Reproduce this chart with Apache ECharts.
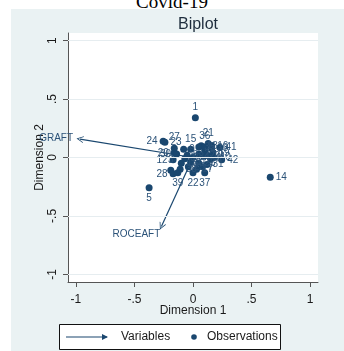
<!DOCTYPE html>
<html>
<head>
<meta charset="utf-8">
<script src="https://cdn.jsdelivr.net/npm/echarts@6/dist/echarts.min.js"></script>
<style>
  html, body { margin: 0; padding: 0; background: #fff; }
  #top { position: absolute; left: 0; top: -9px; width: 344px; text-align: center;
         font: 19px "Liberation Serif", "Times New Roman", serif; color: #000; }
  #bg { position: absolute; left: 11px; top: 9px; width: 333px; height: 342px; background: #eaf2f3; }
  #chartWrapper { position: absolute; left: 0; top: 0; width: 344px; height: 351px; }
</style>
</head>
<body>
<div id="top">Covid-19</div>
<div id="bg"></div>
<div id="chartWrapper"></div>
<script>
// observations (dimension 1, dimension 2), numbered 1..42
let obsNames = ['1','2','3','4','5','6','7','8','9','10','11','12','13','14','15','16','17','18','19','20','21',
    '22','23','24','25','26','27','28','29','30','31','32','33','34','35','36','37','38','39','40','41','42'];
let obsDim1 = [0.02, 0.05, -0.19, 0.10, -0.375, 0.15, 0.08, -0.05, -0.08, 0.12, -0.02, -0.17, 0.07, 0.66,
    -0.02, 0.16, 0.03, -0.10, 0.17, -0.16, 0.13, 0.0, -0.24, -0.255, -0.04, 0.05, -0.16, -0.17, 0.09, -0.14,
    0.12, -0.07, 0.16, 0.0, 0.05, 0.10, 0.10, -0.11, -0.13, 0.18, 0.23, 0.245];
let obsDim2 = [0.34, 0.03, -0.11, 0.06, -0.26, -0.01, -0.08, 0.02, 0.07, 0.02, -0.04, -0.02, 0.10, -0.17,
    0.07, 0.10, -0.10, -0.05, 0.04, 0.04, 0.12, -0.13, 0.13, 0.14, -0.08, -0.05, 0.08, -0.14, 0.01, 0.03,
    -0.06, -0.01, 0.08, 0.0, 0.09, 0.09, -0.13, -0.10, -0.13, 0.0, 0.085, -0.02];
// label side for some observations (default right)
let obsLabelSide = {'1': 'top', '5': 'bottom', '24': 'left', '27': 'top', '15': 'top', '36': 'top', '21': 'top',
    '12': 'left', '20': 'left', '30': 'left', '28': 'left', '22': 'bottom', '37': 'bottom', '3': 'top', '39': 'bottom'};

// variables (arrow tips)
let varNames = ['GRAFT', 'ROCEAFT'];
let varDim1 = [-0.966, -0.27];
let varDim2 = [0.158, -0.59];

let tickValues = [-1, -0.5, 0, 0.5, 1];

let navy = '#1a476f';
let labelColor = '#2b5278';
let font = 'Liberation Sans, Arial, sans-serif';

function fmt(v) {
    return String(v).replace('0.', '.');
}

let myChart = echarts.init(document.getElementById('chartWrapper'));

let obsData = [];
for (let i = 0; i < obsNames.length; i++) {
    let item = { name: obsNames[i], value: [obsDim1[i], obsDim2[i]] };
    let side = obsLabelSide[obsNames[i]];
    if (side) {
        item.label = { position: side };
    }
    obsData.push(item);
}

let varData = [];
for (let i = 0; i < varNames.length; i++) {
    varData.push({
        name: varNames[i],
        coords: [[0, 0], [varDim1[i], varDim2[i]]],
        label: i === 0 ? { distance: 7 } : { offset: [-25, 3] }
    });
}

let option = {
    animation: false,
    title: {
        text: 'Biplot',
        left: 193,
        top: 12,
        textAlign: 'center',
        textStyle: { fontFamily: font, fontSize: 16, fontWeight: 'normal', color: '#1e2d3d' }
    },
    grid: {
        left: 68, right: 26, top: 33, bottom: 69,
        show: true, backgroundColor: '#fff', borderWidth: 0
    },
    xAxis: {
        type: 'value',
        min: -1.068, max: 1.068,
        name: 'Dimension 1',
        nameLocation: 'middle',
        nameGap: 23,
        nameMoveOverlap: false,
        nameTextStyle: { fontFamily: font, fontSize: 12, color: '#1a1a1a' },
        axisLine: { show: true, onZero: false, lineStyle: { color: '#555', width: 1 } },
        axisTick: { show: true, length: 5, customValues: tickValues, lineStyle: { color: '#555' } },
        axisLabel: { customValues: tickValues, formatter: fmt, margin: 12,
            fontFamily: font, fontSize: 12, color: '#1a1a1a' },
        splitLine: { show: false }
    },
    yAxis: {
        type: 'value',
        min: -1.066, max: 1.066,
        name: 'Dimension 2',
        nameLocation: 'middle',
        nameGap: 22,
        nameMoveOverlap: false,
        nameTextStyle: { fontFamily: font, fontSize: 12, color: '#1a1a1a' },
        axisLine: { show: true, onZero: false, lineStyle: { color: '#555', width: 1 } },
        axisTick: { show: true, length: 5, customValues: tickValues, lineStyle: { color: '#555' } },
        axisLabel: { customValues: tickValues, formatter: fmt, rotate: 90, margin: 9,
            align: 'center', verticalAlign: 'bottom',
            fontFamily: font, fontSize: 12, color: '#1a1a1a' },
        splitLine: { show: false }
    },
    series: [
        {
            // horizontal grid lines
            type: 'scatter',
            data: [],
            z: 1,
            silent: true,
            markLine: {
                silent: true,
                symbol: 'none',
                label: { show: false },
                lineStyle: { color: '#e6edf0', width: 1, type: 'solid' },
                data: tickValues.map(function (v) { return { yAxis: v }; })
            }
        },
        {
            name: 'Variables',
            type: 'lines',
            coordinateSystem: 'cartesian2d',
            clip: false,
            z: 3,
            symbol: ['none', 'path://M0,0 L6,10 L4.6,10 L0,2.6 L-4.6,10 L-6,10 Z'],
            symbolSize: 7,
            lineStyle: { color: navy, width: 1.2, opacity: 1, curveness: 0 },
            label: {
                show: true,
                position: 'end',
                formatter: '{b}',
                fontFamily: font, fontSize: 10, color: labelColor
            },
            data: varData
        },
        {
            name: 'Observations',
            type: 'scatter',
            z: 4,
            clip: false,
            symbol: 'circle',
            symbolSize: 7,
            itemStyle: { color: navy, opacity: 1 },
            label: {
                show: true,
                position: 'right',
                distance: 2,
                formatter: '{b}',
                fontFamily: font, fontSize: 10, color: labelColor
            },
            data: obsData
        }
    ],
    graphic: [
        { type: 'rect', shape: { x: 59.5, y: 324.5, width: 221, height: 25 },
          style: { fill: '#fff', stroke: '#111', lineWidth: 1 } },
        { type: 'line', shape: { x1: 66, y1: 337, x2: 107, y2: 337 },
          style: { stroke: navy, lineWidth: 1.2 } },
        { type: 'polygon', shape: { points: [[108, 337], [102, 334], [102, 340]] },
          style: { fill: navy } },
        { type: 'text', x: 121, y: 337,
          style: { text: 'Variables', fontFamily: font, fontSize: 12, fill: '#1a1a1a', verticalAlign: 'middle' } },
        { type: 'circle', shape: { cx: 194, cy: 337, r: 2.8 }, style: { fill: navy } },
        { type: 'text', x: 207, y: 337,
          style: { text: 'Observations', fontFamily: font, fontSize: 12, fill: '#1a1a1a', verticalAlign: 'middle' } }
    ]
};

myChart.setOption(option);
</script>
</body>
</html>
